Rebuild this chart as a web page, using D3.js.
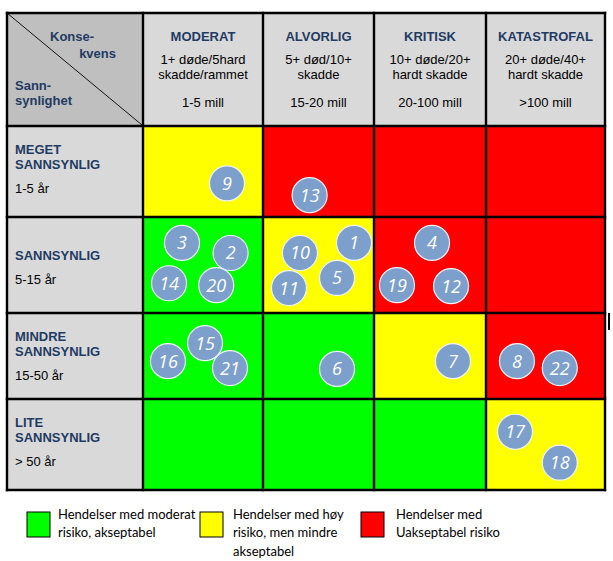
<!DOCTYPE html>
<html><head><meta charset="utf-8">
<script src="https://cdn.jsdelivr.net/npm/d3@7"></script>
<style>html,body{margin:0;padding:0;background:#fff;}</style>
</head><body>
<script>
// ---- data ----
const consequences = ["MODERAT", "ALVORLIG", "KRITISK", "KATASTROFAL"];
const consequenceDesc1 = ["1+ døde/5hard", "5+ død/10+", "10+ døde/20+", "20+ døde/40+"];
const consequenceDesc2 = ["skadde/rammet", "skadde", "hardt skadde", "hardt skadde"];
const consequenceCost = ["1-5 mill", "15-20 mill", "20-100 mill", ">100 mill"];
const likelihoodTitle = [["MEGET", "SANNSYNLIG"], ["SANNSYNLIG"], ["MINDRE", "SANNSYNLIG"], ["LITE", "SANNSYNLIG"]];
const likelihoodPeriod = ["1-5 år", "5-15 år", "15-50 år", "> 50 år"];
// risk level per cell: 0 = moderat, 1 = høy, 2 = uakseptabel
const riskMatrix = [
  [1, 2, 2, 2],
  [0, 1, 2, 2],
  [0, 0, 1, 2],
  [0, 0, 0, 1]
];
const legendLabels = [
  ["Hendelser med moderat", "risiko, akseptabel"],
  ["Hendelser med høy", "risiko, men mindre", "akseptabel"],
  ["Hendelser med", "Uakseptabel risiko"]
];
// events: consequence position (column index + fraction), likelihood position (row index + fraction)
const eventIds         = [9, 13, 3, 2, 14, 20, 10, 11, 1, 5, 4, 19, 12, 16, 15, 21, 6, 7, 8, 22, 17, 18];
const eventConsequence = [0.70, 1.42, 0.325, 0.73, 0.217, 0.61, 1.333, 1.234, 1.82, 1.667, 2.518, 2.205, 2.688, 0.208, 0.517, 0.725, 1.667, 2.705, 3.26, 3.62, 3.244, 3.62];
const eventLikelihood  = [0.63, 0.76, 1.27, 1.375, 1.69, 1.71, 1.375, 1.74, 1.27, 1.635, 1.27, 1.71, 1.72, 2.56, 2.35, 2.64, 2.65, 2.56, 2.56, 2.64, 3.36, 3.70];

// ---- styles ----
const riskColors = ["#00ff00", "#ffff00", "#ff0000"];
const headerFill = "#d9d9d9", cornerFill = "#bfbfbf";
const titleColor = "#1f3b63";

const W = 613, H = 561;
const svg = d3.select("body").append("svg").attr("width", W).attr("height", H)
  .style("font-family", "'Liberation Sans', Arial, sans-serif");

const x = d3.scaleLinear().domain([0, 1, 2, 3, 4]).range([143, 263, 374, 486, 605]);
const y = d3.scaleLinear().domain([0, 1, 2, 3, 4]).range([126, 217, 313, 399, 490]);
const gLeft = 7, gTop = 13;

// corner
svg.append("rect").attr("x", gLeft).attr("y", gTop).attr("width", x(0) - gLeft).attr("height", y(0) - gTop).attr("fill", cornerFill);
svg.append("line").attr("x1", gLeft).attr("y1", gTop).attr("x2", x(0) - 1).attr("y2", y(0) - 1)
  .attr("stroke", "#000").attr("stroke-width", 0.9);
const corner = svg.append("g").attr("fill", titleColor).attr("font-weight", "bold").attr("font-size", 13);
corner.append("text").attr("x", 50).attr("y", 36).attr("dy", "0.35em").text("Konse-");
corner.append("text").attr("x", 116).attr("y", 53).attr("dy", "0.35em").attr("text-anchor", "end").text("kvens");
corner.append("text").attr("x", 15).attr("y", 85).attr("dy", "0.35em").text("Sann-");
corner.append("text").attr("x", 15).attr("y", 100).attr("dy", "0.35em").text("synlighet");

// header cells
const hdr = svg.append("g").selectAll("g").data(consequences).join("g");
hdr.append("rect").attr("x", (d, i) => x(i)).attr("y", gTop).attr("width", (d, i) => x(i + 1) - x(i)).attr("height", y(0) - gTop).attr("fill", headerFill);
hdr.append("text").attr("x", (d, i) => (x(i) + x(i + 1)) / 2).attr("y", 36).attr("dy", "0.35em").attr("text-anchor", "middle")
  .attr("font-weight", "bold").attr("font-size", 13).attr("fill", titleColor).text(d => d);
hdr.append("text").attr("x", (d, i) => (x(i) + x(i + 1)) / 2).attr("y", 59).attr("dy", "0.35em").attr("text-anchor", "middle")
  .attr("font-size", 13).text((d, i) => consequenceDesc1[i]);
hdr.append("text").attr("x", (d, i) => (x(i) + x(i + 1)) / 2).attr("y", 74).attr("dy", "0.35em").attr("text-anchor", "middle")
  .attr("font-size", 13).text((d, i) => consequenceDesc2[i]);
hdr.append("text").attr("x", (d, i) => (x(i) + x(i + 1)) / 2).attr("y", 102).attr("dy", "0.35em").attr("text-anchor", "middle")
  .attr("font-size", 13).text((d, i) => consequenceCost[i]);

// row label cells
const rows = svg.append("g").selectAll("g").data(likelihoodTitle).join("g");
rows.append("rect").attr("x", gLeft).attr("y", (d, i) => y(i)).attr("width", x(0) - gLeft).attr("height", (d, i) => y(i + 1) - y(i)).attr("fill", headerFill);
rows.each(function (lines, i) {
  const g = d3.select(this);
  const base = y(i) + 38.5;
  lines.forEach((t, k) => {
    g.append("text").attr("x", 15).attr("y", base - (lines.length - 1 - k) * 15).attr("dy", "0.35em")
      .attr("font-weight", "bold").attr("font-size", 13).attr("fill", titleColor).text(t);
  });
  g.append("text").attr("x", 15).attr("y", y(i) + 62).attr("dy", "0.35em").attr("font-size", 13).text(likelihoodPeriod[i]);
});

// risk cells
const cells = [];
riskMatrix.forEach((row, r) => row.forEach((lvl, c) => cells.push({ r, c, lvl })));
svg.append("g").selectAll("rect").data(cells).join("rect")
  .attr("x", d => x(d.c)).attr("y", d => y(d.r))
  .attr("width", d => x(d.c + 1) - x(d.c)).attr("height", d => y(d.r + 1) - y(d.r))
  .attr("fill", d => riskColors[d.lvl]);

// grid lines
const gl = svg.append("g").attr("stroke", "#000").attr("stroke-width", 2.4);
[gLeft, x(0), x(1), x(2), x(3), x(4)].forEach(v => gl.append("line").attr("x1", v).attr("x2", v).attr("y1", gTop - 1.2).attr("y2", y(4) + 1.2));
[gTop, y(0), y(1), y(2), y(3), y(4)].forEach(v => gl.append("line").attr("y1", v).attr("y2", v).attr("x1", gLeft - 1.2).attr("x2", x(4) + 1.2));
// small mark at right edge
svg.append("line").attr("x1", 609).attr("x2", 609).attr("y1", y(2)).attr("y2", y(2) + 17).attr("stroke", "#000").attr("stroke-width", 2);

// events
const events = eventIds.map((id, i) => ({ id, cx: eventConsequence[i], cy: eventLikelihood[i] }));
const ev = svg.append("g").selectAll("g").data(events).join("g")
  .attr("transform", d => `translate(${x(d.cx)},${y(d.cy)})`);
ev.append("circle").attr("r", 17.5).attr("fill", "#7d9fcb").attr("stroke", "#eef3fa").attr("stroke-width", 1.2);
ev.append("text").attr("text-anchor", "middle").attr("dy", "0.36em")
  .attr("font-family", "'Open Sans', sans-serif").attr("font-style", "italic").attr("font-size", 18)
  .attr("fill", "#fff").text(d => d.id);

// legend
const legendX = [27, 200, 361];
const legendTextX = [58, 233, 396];
const lg = svg.append("g").selectAll("g").data(legendLabels).join("g");
lg.append("rect").attr("x", (d, i) => legendX[i]).attr("y", 512).attr("width", 23).attr("height", 25)
  .attr("fill", (d, i) => riskColors[i]).attr("stroke", "#000").attr("stroke-width", 1);
lg.each(function (lines, i) {
  const g = d3.select(this);
  lines.forEach((t, k) => g.append("text").attr("x", legendTextX[i]).attr("y", 514 + k * 18.5).attr("dy", "0.35em")
    .attr("font-family", "Lato, sans-serif").attr("font-size", 13).text(t));
});
</script>
</body></html>
